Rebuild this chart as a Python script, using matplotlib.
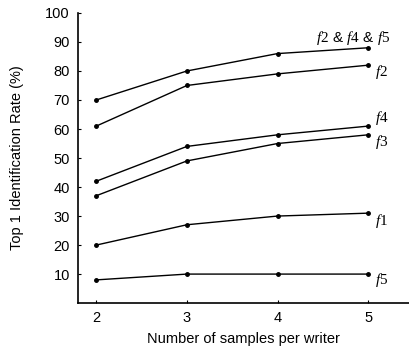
import matplotlib
matplotlib.use("Agg")
import matplotlib.pyplot as plt

plt.rcParams['font.family'] = ['Liberation Sans', 'DejaVu Sans']
plt.rcParams['mathtext.fontset'] = 'custom'
plt.rcParams['mathtext.it'] = 'Liberation Serif:italic'
plt.rcParams['mathtext.rm'] = 'Liberation Serif'

# Dữ liệu
samples = [2, 3, 4, 5]
all3 = [70, 80, 86, 88]
f2 = [61, 75, 79, 82]
f4 = [42, 54, 58, 61]
f3 = [37, 49, 55, 58]
f1 = [20, 27, 30, 31]
f5 = [8, 10, 10, 10]

series = [all3, f2, f4, f3, f1, f5]
labels = [r"$\mathit{f2}$ & $\mathit{f4}$ & $\mathit{f5}$", r"$\mathit{f2}$",
          r"$\mathit{f4}$", r"$\mathit{f3}$", r"$\mathit{f1}$", r"$\mathit{f5}$"]
label_pos = [(4.42, 91.5), (5.07, 79.6), (5.07, 63.7), (5.07, 55.4), (5.07, 28.4), (5.07, 8)]

fig = plt.figure(figsize=(4.09, 3.5), dpi=100)
ax = fig.add_axes([0.191, 0.134, 0.809, 0.829])

for ys, lab, (tx, ty) in zip(series, labels, label_pos):
    ax.plot(samples, ys, color='black', linewidth=1, marker='o', markersize=2.5)
    ax.text(tx, ty, lab, fontsize=11, ha='left', va='center')

ax.set_xlim(1.8, 5.45)
ax.set_ylim(0, 100)
ax.set_xticks(samples)
ax.set_yticks(range(10, 101, 10))
ax.spines['top'].set_visible(False)
ax.spines['right'].set_visible(False)
ax.spines['left'].set_linewidth(1.2)
ax.spines['bottom'].set_linewidth(1.2)
ax.tick_params(direction='in', length=2, labelsize=10.5, width=0.8)
ax.tick_params(axis='x', pad=6)
ax.tick_params(axis='y', pad=6)
ax.set_xlabel("Number of samples per writer", fontsize=10.5, labelpad=5)
ax.set_ylabel("Top 1 Identification Rate (%)", fontsize=10.5, labelpad=15)

fig.savefig("out.png", dpi=100)
